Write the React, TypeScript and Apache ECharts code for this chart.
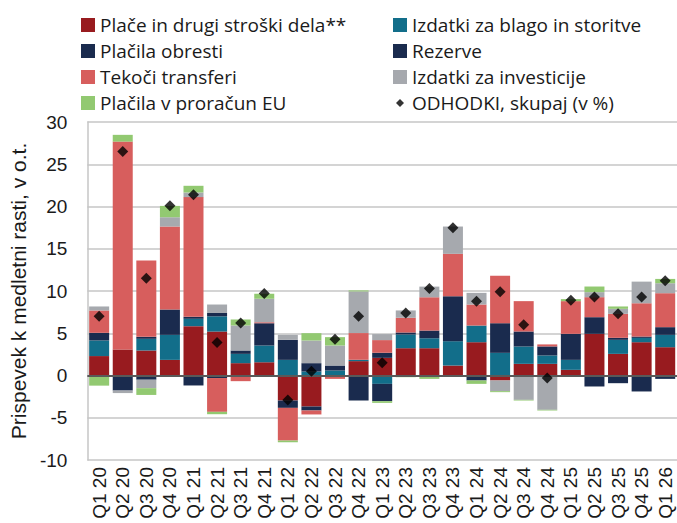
import React, { useEffect, useRef } from "react";
import * as echarts from "echarts";

const categories = [
  "Q1 20", "Q2 20", "Q3 20", "Q4 20", "Q1 21", "Q2 21", "Q3 21", "Q4 21",
  "Q1 22", "Q2 22", "Q3 22", "Q4 22", "Q1 23", "Q2 23", "Q3 23", "Q4 23",
  "Q1 24", "Q2 24", "Q3 24", "Q4 24", "Q1 25", "Q2 25", "Q3 25", "Q4 25", "Q1 26",
];

const place = [2.3, 3.08, 2.96, 1.85, 5.84, 5.2, 1.46, 1.58, -2.96, -3.67, 0, 1.7, 2.09, 3.23, 3.23, 1.18, 3.94, -0.59, 1.38, 1.38, 0.67, 4.93, 2.56, 3.94, 3.35];
const blago = [1.85, 0, 1.38, 2.96, 0.87, 1.8, 1.1, 1.97, 1.85, 0.47, 0.59, 0.16, -0.99, 1.62, 1.18, 2.88, 1.97, 2.68, 2.05, 0.99, 1.18, 0, 1.66, 0.51, 1.46];
const obresti = [0, -1.78, -0.5, 0, -1.18, -0.3, 0, 0, -0.87, -0.47, 0, -2.96, -2.05, 0, 0, 0, -0.59, 0, 0, 0, 0, -1.3, -0.91, -1.89, -0.4];
const rezerve = [0.9, 0, 0.24, 3.0, 0.24, 0.4, 0.4, 2.64, 2.37, 0.99, 0.59, 0, 0.6, 0.24, 0.91, 5.33, 0, 3.51, 1.78, 1.07, 3.08, 1.97, 0.24, 0.16, 0.91];
const transferi = [2.65, 24.6, 9.03, 9.82, 14.16, -4.0, -0.67, 0.12, -3.87, -0.47, -0.4, 3.16, 1.5, 1.74, 3.94, 5.01, 2.49, 5.6, 3.59, 0.24, 3.87, 2.37, 2.84, 3.94, 4.02];
const investicije = [0.47, -0.3, -1.0, 1.1, 0.55, 1.0, 2.96, 2.76, 0.59, 2.68, 2.37, 4.93, 0.71, 0.87, 1.26, 3.23, 1.38, -1.26, -2.88, -4.06, 0, 0.59, 0.59, 2.56, 1.18];
const proracunEU = [-1.2, 0.8, -0.8, 1.34, 0.79, -0.28, 0.71, 0.59, -0.2, 0.87, 0.99, 0.12, -0.2, -0.2, -0.4, 0, -0.4, -0.12, -0.08, -0.08, 0.24, 0.67, 0.28, 0, 0.51];
const odhodki = [7.0, 26.5, 11.5, 20.1, 21.4, 3.9, 6.2, 9.7, -2.9, 0.5, 4.3, 7.0, 1.5, 7.4, 10.3, 17.5, 8.8, 9.9, 6.0, -0.3, 8.9, 9.3, 7.3, 9.3, 11.2];

const yTicks = { min: -10, max: 30, interval: 5 };

const N_PLACE = "Plače in drugi stroški dela**";
const N_BLAGO = "Izdatki za blago in storitve";
const N_OBRESTI = "Plačila obresti";
const N_REZERVE = "Rezerve";
const N_TRANSF = "Tekoči transferi";
const N_INVEST = "Izdatki za investicije";
const N_EU = "Plačila v proračun EU";
const N_TOTAL = "ODHODKI, skupaj (v %)";

const barSeries = [
  { name: N_PLACE, data: place, color: "#981B1F" },
  { name: N_BLAGO, data: blago, color: "#126E8A" },
  { name: N_OBRESTI, data: obresti, color: "#1A2B4E" },
  { name: N_REZERVE, data: rezerve, color: "#1A2B4E" },
  { name: N_TRANSF, data: transferi, color: "#D75E5D" },
  { name: N_INVEST, data: investicije, color: "#A6A9AE" },
  { name: N_EU, data: proracunEU, color: "#92C971" },
];

export default function App() {
  const ref = useRef<HTMLDivElement>(null);
  useEffect(() => {
    if (!ref.current) return;
    const chart = echarts.init(ref.current, null, { renderer: "svg" });
    const legendText = { fontFamily: "Open Sans", fontSize: 19, color: "#1a1a1a", lineHeight: 20 };
    const series: any[] = barSeries.map((s, i) => ({
      name: s.name,
      type: "bar",
      stack: "total",
      data: s.data,
      barWidth: 20,
      itemStyle: { color: s.color },
      emphasis: { disabled: true },
      ...(i === barSeries.length - 1
        ? {
            markLine: {
              silent: true,
              symbol: "none",
              label: { show: false },
              lineStyle: { color: "#595959", width: 2, type: "solid" },
              data: [{ yAxis: 0 }],
            },
          }
        : {}),
    }));
    series.push({
      name: N_TOTAL,
      type: "scatter",
      data: odhodki,
      symbol: "diamond",
      symbolSize: 11,
      itemStyle: { color: "#000" },
      z: 5,
      emphasis: { disabled: true },
    });
    const diamondIcon = "path://M0 0L0 0M14 14L14 14M7 3L11 7L7 11L3 7Z";
    chart.setOption({
      animation: false,
      backgroundColor: "#fff",
      legend: [
        {
          left: 76,
          top: 10,
          orient: "vertical",
          itemWidth: 14,
          itemHeight: 14,
          itemGap: 6,
          icon: "rect",
          textStyle: legendText,
          selectedMode: false,
          data: [N_PLACE, N_OBRESTI, N_TRANSF, N_EU],
        },
        {
          left: 388,
          top: 10,
          orient: "vertical",
          itemWidth: 14,
          itemHeight: 14,
          itemGap: 6,
          textStyle: legendText,
          selectedMode: false,
          data: [
            { name: N_BLAGO, icon: "rect" },
            { name: N_REZERVE, icon: "rect" },
            { name: N_INVEST, icon: "rect" },
            { name: N_TOTAL, icon: diamondIcon },
          ],
        },
      ],
      grid: { left: 78, top: 122, width: 600, height: 338, containLabel: false },
      xAxis: {
        type: "category",
        data: categories,
        axisLine: { show: false },
        axisTick: { show: false },
        axisLabel: {
          interval: 0,
          rotate: 90,
          margin: 7,
          fontFamily: "Liberation Sans",
          fontSize: 19,
          color: "#1a1a1a",
        },
      },
      yAxis: {
        type: "value",
        min: yTicks.min,
        max: yTicks.max,
        interval: yTicks.interval,
        name: "Prispevek k medletni rasti, v o.t.",
        nameLocation: "middle",
        nameGap: 58,
        nameTextStyle: { fontFamily: "Liberation Sans", fontSize: 21, color: "#1a1a1a" },
        axisLine: { show: true, lineStyle: { color: "#C6C6C6", width: 1.5 } },
        axisTick: { show: false },
        splitLine: { lineStyle: { color: "#C6C6C6", width: 1.5 } },
        axisLabel: { margin: 20, fontFamily: "Liberation Sans", fontSize: 19, color: "#1a1a1a" },
      },
      series,
    });
    return () => chart.dispose();
  }, []);
  return (
    <div
      ref={ref}
      style={{ position: "fixed", left: 0, top: 0, width: 677, height: 523, background: "#fff" }}
    />
  );
}
